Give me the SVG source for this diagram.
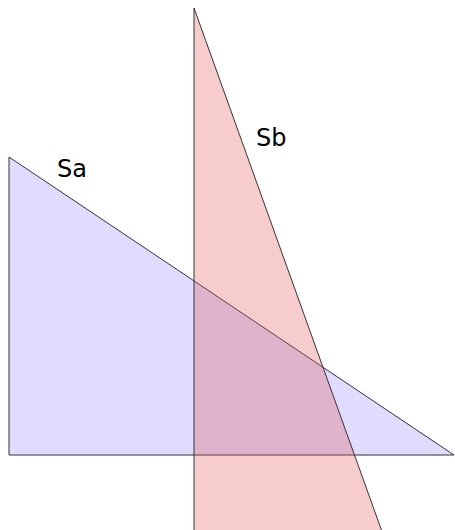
<svg xmlns="http://www.w3.org/2000/svg" width="455" height="530" viewBox="0 0 455 530">
<style>
.edge{stroke:#333;stroke-width:1;stroke-linejoin:miter}
.lbl{font-family:"DejaVu Sans",sans-serif;font-size:24px;fill:#000}
</style>
<rect width="455" height="530" fill="#fff"/>
<g id="Sa">
<polygon class="edge" points="9,157 9,455 454,455" fill="#e0dbff"/>
<text class="lbl" x="57" y="177">Sa</text>
</g>
<g id="Sb">
<polygon class="edge" points="194,8 194,540 385,540" fill="#e15555" fill-opacity="0.3"/>
<text class="lbl" x="256" y="146">Sb</text>
</g>
</svg>
